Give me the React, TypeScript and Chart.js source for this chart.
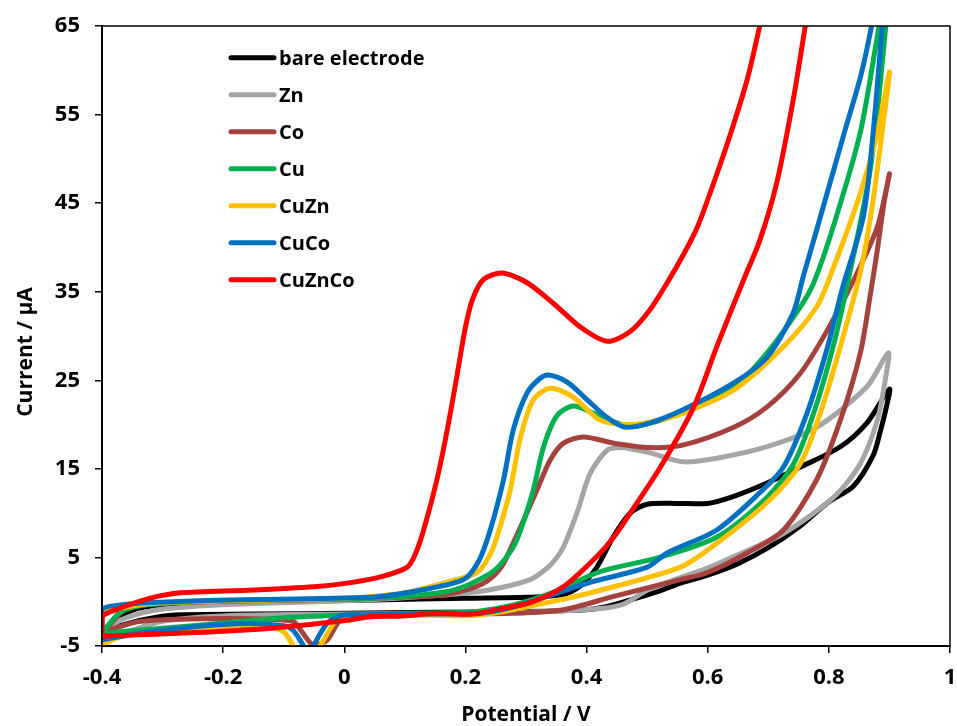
import React, { useEffect, useRef } from 'react';
import { Chart, registerables } from 'chart.js';

Chart.register(...registerables);

const seriesNames = ['bare electrode', 'Zn', 'Co', 'Cu', 'CuZn', 'CuCo', 'CuZnCo'];
const seriesColors = ['#000000', '#A5A5A5', '#A5423D', '#00B050', '#FFC000', '#0070C0', '#FF0000'];

const xTicks = [-0.4, -0.2, 0, 0.2, 0.4, 0.6, 0.8, 1];
const yTicks = [-5, 5, 15, 25, 35, 45, 55, 65];

const xTitle = 'Potential / V';
const yTitle = 'Current / µA';

// bare electrode (forward scan, then reverse scan)
const bareX = [-0.4, -0.37, -0.33, -0.25, -0.1, 0.05, 0.2, 0.3, 0.36, 0.39, 0.417, 0.444, 0.472, 0.5, 0.55, 0.6, 0.643, 0.698, 0.753, 0.819, 0.863, 0.9,
  0.895, 0.884, 0.873, 0.84, 0.8, 0.75, 0.7, 0.65, 0.6, 0.555, 0.52, 0.472, 0.43, 0.4, 0.3, 0.15, 0, -0.15, -0.28, -0.33, -0.37, -0.4];
const bareY = [-3.4, -1.6, -0.6, -0.2, 0.0, 0.2, 0.4, 0.5, 0.8, 1.8, 3.9, 7.3, 10.0, 11.0, 11.1, 11.1, 11.9, 13.4, 15.2, 17.5, 20.2, 24.0,
  22.0, 19.0, 16.5, 13.0, 11.3, 8.4, 6.1, 4.3, 3.0, 2.1, 1.2, 0.2, -0.6, -0.9, -1.1, -1.2, -1.3, -1.4, -1.5, -2.0, -2.7, -3.4];

// Zn
const znX = [-0.4, -0.373, -0.33, -0.295, -0.186, 0, 0.153, 0.236, 0.307, 0.335, 0.35, 0.362, 0.384, 0.406, 0.434, 0.456, 0.477, 0.505, 0.56, 0.615, 0.698, 0.78, 0.863, 0.898,
  0.893, 0.88, 0.852, 0.808, 0.725, 0.643, 0.6, 0.55, 0.5, 0.46, 0.418, 0.335, 0.2, 0, -0.2, -0.3, -0.35, -0.4];
const znY = [-4.3, -2.2, -1.2, -0.8, -0.3, 0.1, 0.7, 1.3, 2.5, 3.8, 4.9, 6.2, 10.0, 14.5, 17.1, 17.4, 17.2, 16.8, 15.8, 16.2, 17.5, 19.7, 24.3, 28.1,
  25.0, 20.5, 15.6, 11.8, 7.7, 5.1, 3.8, 2.6, 1.3, -0.3, -0.8, -1.1, -1.3, -1.4, -1.6, -2.2, -3.2, -4.3];

// Co
const coX = [-0.4, -0.36, -0.3, -0.15, 0, 0.153, 0.2, 0.235, 0.26, 0.28, 0.296, 0.318, 0.34, 0.362, 0.395, 0.445, 0.505, 0.56, 0.643, 0.698, 0.753, 0.798, 0.841, 0.88, 0.9,
  0.891, 0.88, 0.869, 0.852, 0.819, 0.78, 0.725, 0.665, 0.6, 0.555, 0.445, 0.362, 0.279, 0.15, 0.02, -0.007, -0.028, -0.051, -0.072, -0.085, -0.19, -0.335, -0.38, -0.4];
const coY = [-3.6, -0.8, -0.2, 0.1, 0.3, 0.7, 1.3, 2.3, 4.0, 6.8, 9.2, 12.6, 16.0, 17.9, 18.6, 17.9, 17.4, 17.7, 19.7, 22.0, 25.8, 30.7, 36.3, 42.3, 48.3,
  45.0, 39.7, 34.9, 28.1, 20.5, 13.8, 8.1, 5.5, 3.3, 2.5, 0.6, -0.9, -1.3, -1.4, -1.6, -2.1, -4.3, -4.9, -3.2, -2.2, -1.9, -2.2, -3.0, -3.6];

// Cu
const cuX = [-0.4, -0.37, -0.32, -0.2, 0, 0.1, 0.18, 0.241, 0.265, 0.285, 0.312, 0.329, 0.351, 0.378, 0.411, 0.45, 0.48, 0.56, 0.643, 0.698, 0.753, 0.775, 0.808, 0.852, 0.883, 0.9,
  0.894, 0.869, 0.832, 0.807, 0.775, 0.742, 0.698, 0.615, 0.52, 0.422, 0.35, 0.3, 0.25, 0.2, 0.1, 0, -0.1, -0.2, -0.3, -0.37, -0.4];
const cuY = [-3.6, -1.2, -0.3, 0.1, 0.3, 0.6, 1.3, 3.2, 4.8, 7.0, 12.6, 17.5, 21.0, 22.1, 21.3, 20.2, 19.8, 21.4, 24.2, 28.1, 33.3, 36.0, 42.5, 53.0, 65, 71,
  65, 49.1, 36.3, 28.8, 21.3, 15.6, 11.8, 7.3, 5.0, 3.4, 1.2, 0.0, -0.8, -1.2, -1.3, -1.5, -1.8, -2.4, -3.0, -3.4, -3.6];

// CuZn
const cuznX = [-0.4, -0.4, -0.373, -0.32, -0.2, 0, 0.098, 0.153, 0.219, 0.24, 0.252, 0.274, 0.29, 0.312, 0.34, 0.378, 0.422, 0.467, 0.505, 0.56, 0.643, 0.725, 0.78, 0.808, 0.852, 0.88, 0.9,
  0.891, 0.873, 0.853, 0.819, 0.786, 0.753, 0.698, 0.615, 0.555, 0.406, 0.335, 0.224, 0.1, 0, -0.015, -0.04, -0.062, -0.084, -0.1, -0.13, -0.2, -0.3, -0.37, -0.4];
const cuznY = [-4.8, -1.4, -0.8, -0.2, 0.1, 0.4, 1.0, 1.9, 3.3, 5.2, 7.3, 12.6, 18.3, 22.8, 24.1, 23.1, 20.5, 20.0, 20.3, 21.3, 23.9, 28.8, 33.3, 37.8, 46.1, 52.9, 59.8,
  54.7, 45.3, 37.5, 28.8, 21.3, 15.6, 11.2, 6.6, 3.9, 1.0, -0.1, -1.5, -1.5, -1.6, -2.2, -5.0, -7.0, -5.0, -3.4, -2.8, -3.0, -3.3, -4.0, -4.8];

// CuCo
const cucoX = [-0.4, -0.4, -0.373, -0.32, -0.19, 0.043, 0.125, 0.197, 0.222, 0.241, 0.263, 0.279, 0.302, 0.323, 0.337, 0.368, 0.401, 0.434, 0.464, 0.505, 0.56, 0.643, 0.698, 0.741, 0.758, 0.78, 0.824, 0.852, 0.869, 0.9,
  0.888, 0.873, 0.857, 0.822, 0.798, 0.764, 0.725, 0.686, 0.615, 0.533, 0.5, 0.406, 0.335, 0.279, 0.224, 0.1, 0, -0.01, -0.028, -0.051, -0.059, -0.067, -0.085, -0.1, -0.18, -0.323, -0.4];
const cucoY = [-4.3, -0.9, -0.4, -0.1, 0.2, 0.5, 1.3, 2.5, 4.6, 8.1, 13.8, 19.4, 23.6, 25.2, 25.6, 24.8, 22.8, 20.8, 19.7, 20.2, 21.7, 24.7, 27.6, 32.6, 36.8, 42.0, 52.6, 59.2, 64.5, 76,
  65, 52.9, 43.5, 35.3, 28.8, 21.3, 15.2, 12.3, 8.1, 5.5, 3.9, 2.2, 0.6, -0.6, -1.3, -1.4, -1.5, -1.7, -2.4, -5.0, -6.2, -5.0, -3.2, -2.7, -2.5, -3.4, -4.3];

// CuZnCo
const cuzncoX = [-0.4, -0.4, -0.373, -0.32, -0.27, -0.16, -0.05, 0.005, 0.06, 0.104, 0.118, 0.131, 0.153, 0.17, 0.186, 0.2, 0.212, 0.23, 0.26, 0.3, 0.345, 0.39, 0.434, 0.472, 0.505, 0.533, 0.56, 0.583, 0.61, 0.638, 0.665, 0.686, 0.71, 0.9,
  0.8, 0.761, 0.741, 0.714, 0.686, 0.659, 0.615, 0.577, 0.522, 0.472, 0.445, 0.417, 0.362, 0.307, 0.25, 0.213, 0.153, 0.098, 0.043, 0.005, -0.106, -0.216, -0.325, -0.4];
const cuzncoY = [-3.9, -1.7, -0.8, 0.4, 1.0, 1.3, 1.7, 2.1, 2.8, 3.9, 5.5, 8.1, 13.8, 19.4, 25.5, 31.0, 34.2, 36.4, 37.1, 36.1, 33.7, 31.0, 29.4, 30.5, 33.0, 36.0, 39.2, 42.3, 47.3, 52.9, 58.9, 65, 72, 130,
  82, 65, 56.6, 47.3, 40.8, 36.3, 28.8, 22.0, 15.2, 10.0, 7.3, 5.1, 1.7, -0.1, -0.9, -1.4, -1.3, -1.6, -1.7, -2.1, -2.9, -3.4, -3.7, -3.9];

const allX = [bareX, znX, coX, cuX, cuznX, cucoX, cuzncoX];
const allY = [bareY, znY, coY, cuY, cuznY, cucoY, cuzncoY];

const FONT = '"Open Sans", "Liberation Sans", sans-serif';

export default function App() {
  const ref = useRef<HTMLCanvasElement>(null);

  useEffect(() => {
    if (!ref.current) return;
    const datasets = seriesNames.map((name, i) => ({
      label: name,
      data: allX[i].map((x, j) => ({ x, y: allY[i][j] })),
      borderColor: seriesColors[i],
      backgroundColor: seriesColors[i],
      borderWidth: 5,
      pointRadius: 0,
      pointHoverRadius: 0,
      showLine: true,
      tension: 0.28,
      fill: false,
      borderCapStyle: 'round' as const,
      borderJoinStyle: 'round' as const,
      order: seriesNames.length - i,
    }));

    const overlay = {
      id: 'overlay',
      afterDraw(chart: any) {
        const { ctx, chartArea: a } = chart;
        ctx.save();
        ctx.strokeStyle = '#000';
        ctx.lineWidth = 1.5;
        ctx.strokeRect(a.left, a.top, a.right - a.left, a.bottom - a.top);

        // legend inside plot
        ctx.font = `bold 20px ${FONT}`;
        ctx.textAlign = 'left';
        ctx.textBaseline = 'alphabetic';
        seriesNames.forEach((name, i) => {
          const y = a.top + 31.7 + i * 37;
          ctx.strokeStyle = seriesColors[i];
          ctx.lineWidth = 5;
          ctx.lineCap = 'round';
          ctx.beginPath();
          ctx.moveTo(a.left + 129, y);
          ctx.lineTo(a.left + 172, y);
          ctx.stroke();
          ctx.fillStyle = '#000';
          ctx.fillText(name, a.left + 177, y + 7);
        });

        // axis titles
        ctx.font = `bold 21px ${FONT}`;
        ctx.fillStyle = '#000';
        ctx.textAlign = 'center';
        ctx.textBaseline = 'alphabetic';
        ctx.fillText(xTitle, (a.left + a.right) / 2, 721);
        ctx.translate(32, 352);
        ctx.rotate(-Math.PI / 2);
        ctx.fillText(yTitle, 0, 0);
        ctx.restore();
      },
    };

    const tickFont = { family: FONT, size: 22, weight: 'bold' as const };

    const chart = new Chart(ref.current, {
      type: 'scatter',
      data: { datasets },
      options: {
        responsive: false,
        devicePixelRatio: 1,
        animation: false,
        events: [],
        layout: { padding: { left: 0, right: 7, top: 26, bottom: 0 } },
        plugins: {
          legend: { display: false },
          tooltip: { enabled: false },
        },
        scales: {
          x: {
            type: 'linear',
            min: -0.4,
            max: 1,
            afterBuildTicks: (s: any) => { s.ticks = xTicks.map((v) => ({ value: v })); },
            afterFit: (s: any) => { s.height = 80; s.paddingLeft = 0; s.paddingRight = 0; },
            grid: { drawOnChartArea: false, drawTicks: true, tickLength: 7, color: '#000', lineWidth: 1.5 },
            border: { display: true, color: '#000', width: 2 },
            ticks: {
              color: '#000', font: tickFont, padding: 12, maxRotation: 0, autoSkip: false,
              callback: (v: any) => String(Math.round(Number(v) * 10) / 10),
            },
          },
          y: {
            type: 'linear',
            min: -5,
            max: 65,
            afterBuildTicks: (s: any) => { s.ticks = yTicks.map((v) => ({ value: v })); },
            afterFit: (s: any) => { s.width = 102; s.paddingTop = 0; s.paddingBottom = 0; },
            grid: { drawOnChartArea: false, drawTicks: true, tickLength: 7, color: '#000', lineWidth: 1.5 },
            border: { display: true, color: '#000', width: 2 },
            ticks: {
              color: '#000', font: tickFont, padding: 15, autoSkip: false,
              callback: (v: any) => String(v),
            },
          },
        },
      },
      plugins: [overlay],
    });
    return () => chart.destroy();
  }, []);

  return (
    <div style={{ position: 'absolute', left: 0, top: 0, width: 957, height: 726, background: '#fff' }}>
      <canvas ref={ref} width={957} height={726} style={{ display: 'block' }} />
    </div>
  );
}
